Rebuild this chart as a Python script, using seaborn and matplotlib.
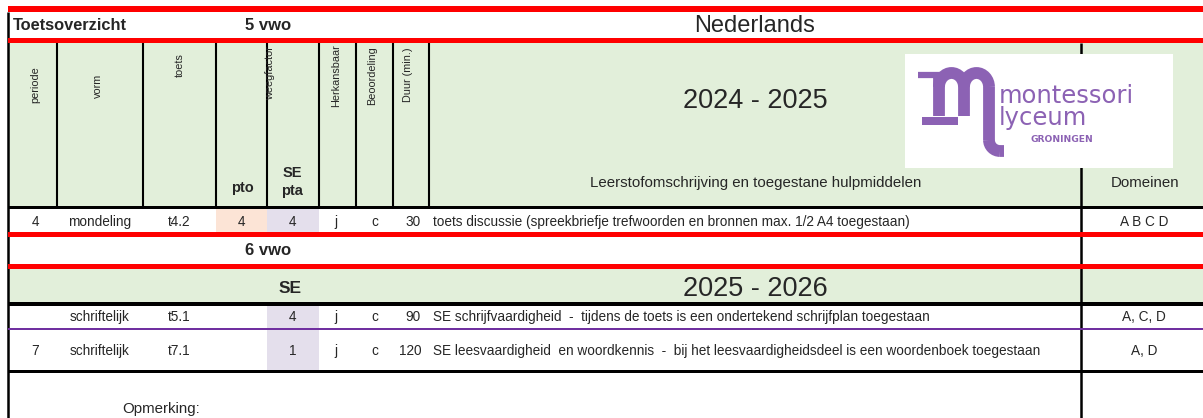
import seaborn as sns
import matplotlib.pyplot as plt
from matplotlib.patches import Rectangle, Arc

# --- table content -------------------------------------------------------
subject = "Nederlands"
years = ["5 vwo", "6 vwo"]
school_years = ["2024 - 2025", "2025 - 2026"]

header_rot = ["periode", "vorm", "toets", "weegfactor", "Herkansbaar", "Beoordeling", "Duur (min.)"]

periods = ["4", "", "7"]
forms = ["mondeling", "schriftelijk", "schriftelijk"]
tests = ["t4.2", "t5.1", "t7.1"]
weight_pto = ["4", "", ""]
weight_pta = ["4", "4", "1"]
retake = ["j", "j", "j"]
grading = ["c", "c", "c"]
duration = [30, 90, 120]
descriptions = [
    "toets discussie (spreekbriefje trefwoorden en bronnen max. 1/2 A4 toegestaan)",
    "SE schrijfvaardigheid  -  tijdens de toets is een ondertekend schrijfplan toegestaan",
    "SE leesvaardigheid  en woordkennis  -  bij het leesvaardigheidsdeel is een woordenboek toegestaan",
]
domains = ["A B C D", "A, C, D", "A, D"]

# --- style ----------------------------------------------------------------
sns.set_theme(style="white")
plt.rcParams['font.family'] = ['Liberation Sans', 'DejaVu Sans']

RED = "#FF0000"
GREEN = "#E2EFDA"
SALMON = "#FCE4D6"
LAVENDER = "#E4DFEC"
PURPLE_LINE = "#7030A0"
LOGO = "#8C62B4"

W, H = 1203, 418
fig = plt.figure(figsize=(W / 100, H / 100), dpi=100)
ax = fig.add_axes([0, 0, 1, 1])
ax.set_xlim(0, W)
ax.set_ylim(H, 0)
ax.axis("off")

def band(x0, x1, y0, y1, color, z=1):
    ax.add_patch(Rectangle((x0, y0), x1 - x0, y1 - y0, facecolor=color, edgecolor="none", zorder=z))

L, R = 8, W
# column edges
cols = [8, 57, 143, 216, 267, 319, 356, 393, 429, 1081, W]

# backgrounds
band(L, R, 43, 206, GREEN)
band(L, R, 269, 302, GREEN)

# data rows geometry
row_top = [209, 306, 329]
row_bot = [232, 328, 370]
row_base = [226, 321, 355]

for i in range(len(tests)):
    if weight_pto[i]:
        band(cols[3], cols[4], row_top[i], row_bot[i], SALMON)
    if weight_pta[i]:
        band(cols[4], cols[5], row_top[i], row_bot[i], LAVENDER)

# vertical lines
ax.plot([L, L], [12, H], color="black", lw=1.8, zorder=3, solid_capstyle="butt")
for x in cols[1:9]:
    ax.plot([x, x], [43, 206], color="black", lw=1.5, zorder=3, solid_capstyle="butt")
ax.plot([1081, 1081], [43, H], color="black", lw=1.8, zorder=3, solid_capstyle="butt")

# horizontal lines
band(L, R, 6, 12, RED, 4)
band(L, R, 38, 43, RED, 4)
band(L, R, 206, 209, "black", 4)
band(L, R, 232, 237, RED, 4)
band(L, R, 264, 269, RED, 4)
band(L, R, 302, 306, "black", 4)
band(L, R, 328, 330, PURPLE_LINE, 4)
band(L, R, 370, 372.5, "black", 4)

# title row
ax.text(13, 30, "Toetsoverzicht", fontsize=11.8, fontweight="bold", va="baseline", ha="left", zorder=5)
ax.text(268, 30, years[0], fontsize=12, fontweight="bold", va="baseline", ha="center", zorder=5)
ax.text(755, 32, subject, fontsize=17, va="baseline", ha="center", zorder=5)

# header
rot_pos = [(35, 85), (98, 86), (180, 65), (270, 73), (336, 75.5), (372, 75.5), (408, 74.5)]
for lab, (x, y) in zip(header_rot, rot_pos):
    ax.text(x, y, lab, fontsize=7.8, rotation=90, ha="center", va="center", zorder=5)
ax.text(242, 192, "pto", fontsize=10.5, fontweight="bold", ha="center", va="baseline", zorder=5)
ax.text(292, 177, "SE", fontsize=10.5, fontweight="bold", ha="center", va="baseline", zorder=5)
ax.text(292, 195, "pta", fontsize=10.5, fontweight="bold", ha="center", va="baseline", zorder=5)
ax.text(755, 108, school_years[0], fontsize=19.5, ha="center", va="baseline", zorder=5)
ax.text(756, 187, "Leerstofomschrijving en toegestane hulpmiddelen", fontsize=10.8,
        ha="center", va="baseline", zorder=5)
ax.text(1145, 187, "Domeinen", fontsize=10.8, ha="center", va="baseline", zorder=5)

# logo
band(905, 1173, 54, 168, "white", 6)
lw_logo = 8.5
ax.plot([918, 940], [75, 75], color=LOGO, lw=4.5, solid_capstyle="butt", zorder=7)
ax.plot([939, 939], [73, 116], color=LOGO, lw=lw_logo, solid_capstyle="butt", zorder=7)
ax.add_patch(Arc((951.5, 87), 25, 28, theta1=180, theta2=360, color=LOGO, lw=lw_logo, zorder=7))
ax.plot([964, 964], [87, 116], color=LOGO, lw=lw_logo, solid_capstyle="butt", zorder=7)
ax.add_patch(Arc((976.5, 87), 25, 28, theta1=180, theta2=360, color=LOGO, lw=lw_logo, zorder=7))
ax.plot([989, 989], [87, 140], color=LOGO, lw=lw_logo, solid_capstyle="butt", zorder=7)
ax.add_patch(Arc((1000, 140), 22, 22, theta1=90, theta2=180, color=LOGO, lw=lw_logo, zorder=7))
ax.plot([1000, 1004], [151, 151], color=LOGO, lw=lw_logo, solid_capstyle="butt", zorder=7)
band(922, 958, 117, 125, LOGO, 7)
ax.text(999, 103, "montessori", fontsize=17.5, color=LOGO, family="DejaVu Sans",
        ha="left", va="baseline", zorder=8)
ax.text(999, 125, "lyceum", fontsize=17.5, color=LOGO, family="DejaVu Sans",
        ha="left", va="baseline", zorder=8)
ax.text(1062, 142, "GRONINGEN", fontsize=6.6, color=LOGO, family="DejaVu Sans",
        fontweight="bold", ha="center", va="baseline", zorder=8)

# 6 vwo section
ax.text(268, 255, years[1], fontsize=12, fontweight="bold", ha="center", va="baseline", zorder=5)
ax.text(290, 293, "SE", fontsize=12.5, fontweight="bold", ha="center", va="baseline", zorder=5)
ax.text(755, 296, school_years[1], fontsize=19.5, ha="center", va="baseline", zorder=5)

# data rows
fs = 9.8
for i in range(len(tests)):
    y = row_base[i]
    ax.text(35, y, periods[i], fontsize=fs, ha="center", va="baseline", zorder=5)
    ax.text(100, y, forms[i], fontsize=fs, ha="center", va="baseline", zorder=5)
    ax.text(179.5, y, tests[i], fontsize=fs, ha="center", va="baseline", zorder=5)
    ax.text(242, y, weight_pto[i], fontsize=fs, ha="center", va="baseline", zorder=5)
    ax.text(292.5, y, weight_pta[i], fontsize=fs, ha="center", va="baseline", zorder=5)
    ax.text(336, y, retake[i], fontsize=fs, ha="center", va="baseline", zorder=5)
    ax.text(375, y, grading[i], fontsize=fs, ha="center", va="baseline", zorder=5)
    ax.text(421, y, str(duration[i]), fontsize=fs, ha="right", va="baseline", zorder=5)
    ax.text(433, y, descriptions[i], fontsize=fs, ha="left", va="baseline", zorder=5)
    ax.text(1144, y, domains[i], fontsize=fs, ha="center", va="baseline", zorder=5)

ax.text(161, 413, "Opmerking:", fontsize=10.8, ha="center", va="baseline", zorder=5)

fig.savefig("out.png", dpi=100, facecolor="white")
